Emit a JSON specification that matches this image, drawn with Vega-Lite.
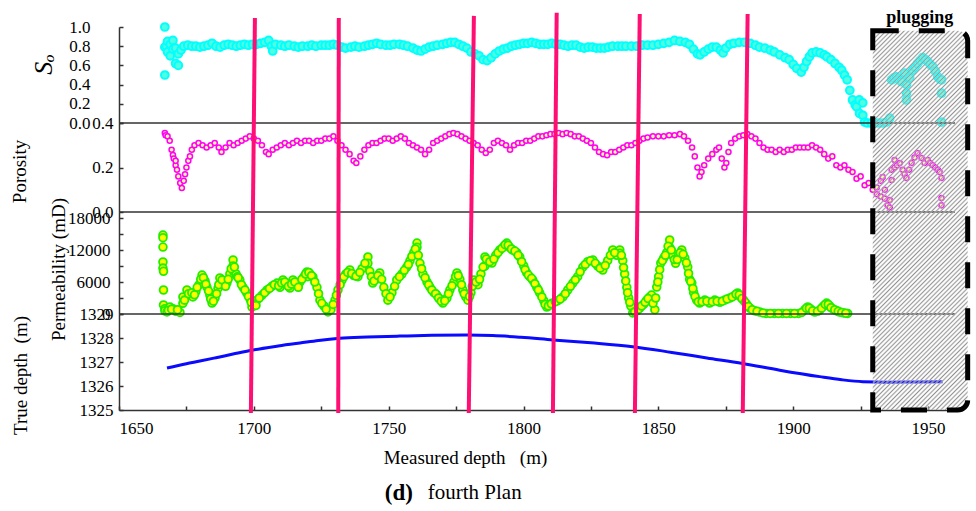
{
  "$schema": "https://vega.github.io/schema/vega-lite/v6.json",
  "autosize": "none",
  "width": 836,
  "height": 383,
  "padding": {"left": 119, "top": 27, "right": 21, "bottom": 101},
  "background": "white",
  "config": {
    "font": "Liberation Serif",
    "view": {"stroke": null},
    "text": {"font": "Liberation Serif"},
    "axis": {"labelFont": "Liberation Serif", "titleFont": "Liberation Serif", "labelColor": "#000", "titleColor": "#000", "titleFontWeight": "normal", "domainColor": "#333", "tickColor": "#333", "grid": false, "labelFontSize": 17, "domainWidth": 1.5, "tickWidth": 1.5}
  },
  "datasets": {
    "so": [
      {"md":1667,"v":1.0},{"md":1667,"v":0.5},{"md":1667,"v":0.79},{"md":1667.5,"v":0.80},{"md":1668,"v":0.74},{"md":1668,"v":0.85},{"md":1669,"v":0.70},{"md":1669,"v":0.82},{"md":1670,"v":0.77},{"md":1670,"v":0.86},{"md":1671,"v":0.62},{"md":1671,"v":0.78},{"md":1672,"v":0.60},{"md":1672,"v":0.72},{"md":1673,"v":0.76},{"md":1674,"v":0.80},{"md":1675.5,"v":0.81},{"md":1677,"v":0.80},{"md":1678.5,"v":0.80},{"md":1680,"v":0.79},{"md":1681.5,"v":0.80},{"md":1683,"v":0.81},{"md":1684.5,"v":0.83},{"md":1686,"v":0.80},{"md":1687.5,"v":0.79},{"md":1689,"v":0.81},{"md":1690.5,"v":0.82},{"md":1692,"v":0.81},{"md":1693.5,"v":0.80},{"md":1695,"v":0.81},{"md":1696.5,"v":0.82},{"md":1698,"v":0.81},{"md":1699.5,"v":0.82},{"md":1701,"v":0.82},{"md":1702.5,"v":0.83},{"md":1704,"v":0.84},{"md":1705.5,"v":0.86},{"md":1706.5,"v":0.80},{"md":1707,"v":0.75},{"md":1708,"v":0.82},{"md":1710,"v":0.81},{"md":1711.5,"v":0.80},{"md":1713,"v":0.81},{"md":1715,"v":0.80},{"md":1716.5,"v":0.79},{"md":1718,"v":0.80},{"md":1720,"v":0.80},{"md":1721.5,"v":0.81},{"md":1723,"v":0.80},{"md":1725,"v":0.81},{"md":1726.5,"v":0.81},{"md":1728,"v":0.81},{"md":1729.5,"v":0.82},{"md":1731,"v":0.81},{"md":1732.5,"v":0.79},{"md":1734,"v":0.78},{"md":1736,"v":0.79},{"md":1737.5,"v":0.80},{"md":1739,"v":0.79},{"md":1741,"v":0.80},{"md":1742.5,"v":0.81},{"md":1744,"v":0.82},{"md":1745.5,"v":0.83},{"md":1747,"v":0.82},{"md":1749,"v":0.81},{"md":1750.5,"v":0.81},{"md":1752,"v":0.82},{"md":1754,"v":0.82},{"md":1755.5,"v":0.81},{"md":1757,"v":0.80},{"md":1759,"v":0.78},{"md":1760.5,"v":0.76},{"md":1762,"v":0.75},{"md":1763.5,"v":0.77},{"md":1765,"v":0.79},{"md":1766.5,"v":0.80},{"md":1768,"v":0.81},{"md":1770,"v":0.82},{"md":1771.5,"v":0.83},{"md":1773,"v":0.84},{"md":1774.5,"v":0.84},{"md":1776,"v":0.82},{"md":1777.5,"v":0.80},{"md":1779,"v":0.78},{"md":1780.5,"v":0.74},{"md":1782,"v":0.72},{"md":1783.5,"v":0.70},{"md":1785,"v":0.66},{"md":1786.5,"v":0.65},{"md":1788,"v":0.68},{"md":1789.5,"v":0.72},{"md":1791,"v":0.75},{"md":1792.5,"v":0.77},{"md":1794,"v":0.78},{"md":1795.5,"v":0.80},{"md":1797,"v":0.81},{"md":1798.5,"v":0.82},{"md":1800,"v":0.83},{"md":1801.5,"v":0.83},{"md":1803,"v":0.84},{"md":1804.5,"v":0.83},{"md":1806,"v":0.82},{"md":1807.5,"v":0.82},{"md":1809,"v":0.82},{"md":1810.5,"v":0.83},{"md":1812,"v":0.82},{"md":1813.5,"v":0.82},{"md":1815,"v":0.81},{"md":1816.5,"v":0.80},{"md":1818,"v":0.81},{"md":1819.5,"v":0.81},{"md":1821,"v":0.79},{"md":1822.5,"v":0.78},{"md":1824,"v":0.79},{"md":1825.5,"v":0.79},{"md":1827,"v":0.78},{"md":1828.5,"v":0.78},{"md":1830,"v":0.78},{"md":1831.5,"v":0.79},{"md":1833,"v":0.80},{"md":1835,"v":0.80},{"md":1836.5,"v":0.80},{"md":1838,"v":0.80},{"md":1840,"v":0.80},{"md":1842,"v":0.80},{"md":1844,"v":0.81},{"md":1846,"v":0.81},{"md":1848,"v":0.81},{"md":1850,"v":0.82},{"md":1852,"v":0.83},{"md":1854,"v":0.84},{"md":1856,"v":0.86},{"md":1858,"v":0.85},{"md":1860,"v":0.84},{"md":1861.5,"v":0.82},{"md":1863,"v":0.77},{"md":1864.5,"v":0.72},{"md":1865.5,"v":0.71},{"md":1867,"v":0.74},{"md":1868.5,"v":0.77},{"md":1870,"v":0.79},{"md":1871.5,"v":0.79},{"md":1873,"v":0.76},{"md":1874,"v":0.73},{"md":1875,"v":0.78},{"md":1876.5,"v":0.82},{"md":1878,"v":0.83},{"md":1880,"v":0.84},{"md":1882,"v":0.84},{"md":1884,"v":0.83},{"md":1886,"v":0.81},{"md":1887.5,"v":0.79},{"md":1889.5,"v":0.78},{"md":1891.5,"v":0.76},{"md":1893,"v":0.74},{"md":1895,"v":0.71},{"md":1897,"v":0.68},{"md":1898.5,"v":0.66},{"md":1900,"v":0.61},{"md":1901.3,"v":0.57},{"md":1903,"v":0.53},{"md":1904,"v":0.58},{"md":1905,"v":0.64},{"md":1906,"v":0.69},{"md":1907,"v":0.73},{"md":1908.5,"v":0.74},{"md":1910,"v":0.73},{"md":1911.5,"v":0.71},{"md":1912.5,"v":0.69},{"md":1914,"v":0.66},{"md":1915.5,"v":0.62},{"md":1917,"v":0.58},{"md":1918,"v":0.55},{"md":1919,"v":0.50},{"md":1920,"v":0.45},{"md":1921,"v":0.34},{"md":1922,"v":0.24},{"md":1923,"v":0.19},{"md":1923.5,"v":0.17},{"md":1924.5,"v":0.24},{"md":1924.6,"v":0.10},{"md":1925.8,"v":0.21},{"md":1925.8,"v":0.08},{"md":1926.5,"v":0.01},{"md":1927.5,"v":0},{"md":1929,"v":0},{"md":1930.5,"v":0},{"md":1932,"v":0},{"md":1933.5,"v":0},{"md":1934.6,"v":0.01},{"md":1935.8,"v":0.05},{"md":1936.5,"v":0.45},{"md":1937.3,"v":0.47},{"md":1938.3,"v":0.48},{"md":1939.2,"v":0.45},{"md":1940.2,"v":0.43},{"md":1941.3,"v":0.52},{"md":1942,"v":0.31},{"md":1942,"v":0.24},{"md":1942,"v":0.40},{"md":1943.2,"v":0.47},{"md":1944.3,"v":0.55},{"md":1945.2,"v":0.58},{"md":1946.1,"v":0.62},{"md":1947,"v":0.65},{"md":1948,"v":0.68},{"md":1949,"v":0.66},{"md":1949.9,"v":0.64},{"md":1950.8,"v":0.61},{"md":1951.7,"v":0.59},{"md":1952.7,"v":0.54},{"md":1953.6,"v":0.48},{"md":1954.3,"v":0.46},{"md":1955,"v":0.45},{"md":1955,"v":0.31},{"md":1955,"v":0.01}
    ],
    "por": [
      {"md":1667,"v":0.355},{"md":1667.3,"v":0.345},{"md":1668,"v":0.34},{"md":1668.8,"v":0.32},{"md":1669.5,"v":0.28},{"md":1670,"v":0.256},{"md":1670.3,"v":0.24},{"md":1671,"v":0.21},{"md":1671,"v":0.23},{"md":1671.5,"v":0.19},{"md":1672,"v":0.16},{"md":1672.7,"v":0.13},{"md":1673.3,"v":0.108},{"md":1674,"v":0.14},{"md":1674.5,"v":0.17},{"md":1675,"v":0.20},{"md":1675.7,"v":0.23},{"md":1676.3,"v":0.25},{"md":1677,"v":0.28},{"md":1678,"v":0.30},{"md":1679.5,"v":0.31},{"md":1681,"v":0.30},{"md":1682.5,"v":0.29},{"md":1684,"v":0.30},{"md":1685.5,"v":0.31},{"md":1687,"v":0.29},{"md":1688,"v":0.27},{"md":1689.5,"v":0.29},{"md":1691,"v":0.31},{"md":1692.5,"v":0.30},{"md":1694,"v":0.31},{"md":1695.5,"v":0.32},{"md":1697,"v":0.33},{"md":1698.5,"v":0.34},{"md":1700,"v":0.33},{"md":1701.5,"v":0.32},{"md":1703,"v":0.30},{"md":1704.5,"v":0.27},{"md":1705.5,"v":0.26},{"md":1707,"v":0.28},{"md":1708.5,"v":0.29},{"md":1710,"v":0.30},{"md":1711.5,"v":0.31},{"md":1713,"v":0.30},{"md":1714.5,"v":0.31},{"md":1716,"v":0.32},{"md":1717.5,"v":0.31},{"md":1719,"v":0.32},{"md":1720.5,"v":0.32},{"md":1722,"v":0.31},{"md":1723.5,"v":0.32},{"md":1725,"v":0.32},{"md":1726.5,"v":0.33},{"md":1728,"v":0.33},{"md":1729.5,"v":0.34},{"md":1731,"v":0.32},{"md":1732.5,"v":0.30},{"md":1734,"v":0.28},{"md":1735.5,"v":0.26},{"md":1737,"v":0.23},{"md":1738,"v":0.22},{"md":1739.5,"v":0.25},{"md":1741,"v":0.28},{"md":1742.5,"v":0.30},{"md":1744,"v":0.31},{"md":1745.5,"v":0.31},{"md":1747,"v":0.32},{"md":1748.5,"v":0.33},{"md":1750,"v":0.33},{"md":1751.5,"v":0.32},{"md":1753,"v":0.33},{"md":1754.5,"v":0.34},{"md":1756,"v":0.33},{"md":1757.5,"v":0.31},{"md":1759,"v":0.30},{"md":1760.5,"v":0.29},{"md":1762,"v":0.28},{"md":1763.5,"v":0.26},{"md":1765,"v":0.28},{"md":1766.5,"v":0.31},{"md":1768,"v":0.32},{"md":1769.5,"v":0.33},{"md":1771,"v":0.34},{"md":1772.5,"v":0.35},{"md":1774,"v":0.355},{"md":1775.5,"v":0.35},{"md":1777,"v":0.34},{"md":1778.5,"v":0.33},{"md":1780,"v":0.32},{"md":1781.5,"v":0.31},{"md":1783,"v":0.30},{"md":1784.5,"v":0.28},{"md":1786,"v":0.265},{"md":1787.5,"v":0.28},{"md":1789,"v":0.31},{"md":1790.5,"v":0.32},{"md":1792,"v":0.31},{"md":1793.5,"v":0.30},{"md":1795,"v":0.28},{"md":1796.5,"v":0.30},{"md":1798,"v":0.31},{"md":1799.5,"v":0.31},{"md":1801,"v":0.32},{"md":1802.5,"v":0.32},{"md":1804,"v":0.33},{"md":1805.5,"v":0.34},{"md":1807,"v":0.34},{"md":1808.5,"v":0.345},{"md":1810,"v":0.35},{"md":1811.5,"v":0.35},{"md":1813,"v":0.355},{"md":1814.5,"v":0.35},{"md":1816,"v":0.355},{"md":1817.5,"v":0.35},{"md":1819,"v":0.34},{"md":1820.5,"v":0.34},{"md":1822,"v":0.33},{"md":1823.5,"v":0.32},{"md":1825,"v":0.31},{"md":1826.5,"v":0.29},{"md":1828,"v":0.27},{"md":1829.5,"v":0.26},{"md":1831,"v":0.255},{"md":1832.5,"v":0.27},{"md":1834,"v":0.27},{"md":1835.5,"v":0.28},{"md":1837,"v":0.29},{"md":1838.5,"v":0.30},{"md":1840,"v":0.30},{"md":1841.5,"v":0.31},{"md":1843,"v":0.32},{"md":1844.5,"v":0.33},{"md":1846,"v":0.335},{"md":1848,"v":0.34},{"md":1850,"v":0.34},{"md":1852,"v":0.34},{"md":1854,"v":0.345},{"md":1856,"v":0.345},{"md":1858,"v":0.35},{"md":1859.5,"v":0.34},{"md":1861,"v":0.32},{"md":1862.5,"v":0.29},{"md":1863.5,"v":0.25},{"md":1864.5,"v":0.20},{"md":1865.3,"v":0.16},{"md":1866,"v":0.18},{"md":1867,"v":0.21},{"md":1868.5,"v":0.24},{"md":1870,"v":0.26},{"md":1871.5,"v":0.28},{"md":1872.5,"v":0.29},{"md":1873.5,"v":0.24},{"md":1874.5,"v":0.20},{"md":1875.2,"v":0.22},{"md":1876,"v":0.27},{"md":1877,"v":0.31},{"md":1878.5,"v":0.33},{"md":1880,"v":0.34},{"md":1881.5,"v":0.345},{"md":1883,"v":0.35},{"md":1884.5,"v":0.34},{"md":1886,"v":0.33},{"md":1887.5,"v":0.31},{"md":1889,"v":0.29},{"md":1890.5,"v":0.28},{"md":1892,"v":0.28},{"md":1893.5,"v":0.27},{"md":1895,"v":0.28},{"md":1896.5,"v":0.27},{"md":1898,"v":0.28},{"md":1899.5,"v":0.28},{"md":1901,"v":0.29},{"md":1902.5,"v":0.29},{"md":1904,"v":0.29},{"md":1905.5,"v":0.29},{"md":1907,"v":0.30},{"md":1908.5,"v":0.29},{"md":1910,"v":0.28},{"md":1911.5,"v":0.26},{"md":1913,"v":0.24},{"md":1914.5,"v":0.25},{"md":1916,"v":0.21},{"md":1917.5,"v":0.20},{"md":1919,"v":0.21},{"md":1920.5,"v":0.19},{"md":1922,"v":0.18},{"md":1923.5,"v":0.15},{"md":1925,"v":0.16},{"md":1926.5,"v":0.12},{"md":1928,"v":0.13},{"md":1929.5,"v":0.10},{"md":1931,"v":0.11},{"md":1931,"v":0.08},{"md":1932.5,"v":0.07},{"md":1932.5,"v":0.14},{"md":1933.2,"v":0.157},{"md":1934,"v":0.06},{"md":1934,"v":0.10},{"md":1935,"v":0.03},{"md":1935.8,"v":0.02},{"md":1935.8,"v":0.054},{"md":1936.5,"v":0.19},{"md":1936.5,"v":0.144},{"md":1937.6,"v":0.234},{"md":1937.6,"v":0.2},{"md":1938.5,"v":0.21},{"md":1939.5,"v":0.22},{"md":1940.6,"v":0.19},{"md":1941.3,"v":0.17},{"md":1942,"v":0.153},{"md":1943,"v":0.19},{"md":1943.9,"v":0.22},{"md":1945,"v":0.245},{"md":1946.1,"v":0.265},{"md":1947.6,"v":0.243},{"md":1948.7,"v":0.22},{"md":1949.9,"v":0.234},{"md":1950.8,"v":0.22},{"md":1951.7,"v":0.21},{"md":1952.7,"v":0.20},{"md":1953.6,"v":0.19},{"md":1954.3,"v":0.18},{"md":1955,"v":0.153},{"md":1955,"v":0.063},{"md":1955,"v":0.03}
    ],
    "perm": [
      {"md":1666.3,"v":14800},{"md":1666.3,"v":14300},{"md":1666.3,"v":12560},{"md":1666.3,"v":9750},{"md":1666.3,"v":8600},{"md":1666.5,"v":8000},{"md":1666.5,"v":4500},{"md":1666.5,"v":1700},{"md":1667,"v":1000},{"md":1667,"v":600},{"md":1667.8,"v":400},{"md":1668.9,"v":1300},{"md":1670,"v":1000},{"md":1671.1,"v":500},{"md":1672.6,"v":300},{"md":1673.7,"v":3200},{"md":1673.7,"v":2000},{"md":1675.2,"v":4500},{"md":1676.3,"v":3500},{"md":1677.4,"v":3200},{"md":1678.5,"v":4200},{"md":1679.7,"v":5500},{"md":1680.8,"v":7300},{"md":1681.9,"v":6200},{"md":1682.6,"v":5060},{"md":1683.7,"v":3500},{"md":1684.5,"v":2060},{"md":1685.6,"v":3000},{"md":1686.7,"v":4800},{"md":1687.4,"v":6750},{"md":1688.9,"v":6000},{"md":1690,"v":5800},{"md":1691.1,"v":7500},{"md":1692.3,"v":10125},{"md":1692.3,"v":9000},{"md":1692.5,"v":8000},{"md":1693.4,"v":7500},{"md":1694.8,"v":6375},{"md":1696,"v":5000},{"md":1697.4,"v":3900},{"md":1698.6,"v":2800},{"md":1699.3,"v":1300},{"md":1700.4,"v":2000},{"md":1701.1,"v":2600},{"md":1703,"v":3500},{"md":1704.9,"v":4500},{"md":1706.7,"v":5200},{"md":1708.6,"v":5800},{"md":1709.7,"v":5000},{"md":1710.8,"v":6375},{"md":1712.3,"v":5500},{"md":1713.4,"v":4875},{"md":1714.5,"v":6375},{"md":1716,"v":5500},{"md":1717.1,"v":6000},{"md":1718.6,"v":7000},{"md":1719.7,"v":7875},{"md":1720,"v":7000},{"md":1720.8,"v":7500},{"md":1721.9,"v":6940},{"md":1723.4,"v":5000},{"md":1724.5,"v":2600},{"md":1726,"v":1500},{"md":1727.5,"v":400},{"md":1728.6,"v":800},{"md":1730.1,"v":2600},{"md":1731.2,"v":4500},{"md":1732.7,"v":6375},{"md":1734.1,"v":7500},{"md":1735.6,"v":8250},{"md":1737.1,"v":7200},{"md":1738.6,"v":7000},{"md":1740.1,"v":8500},{"md":1742.3,"v":10700},{"md":1742.3,"v":9500},{"md":1744.1,"v":5800},{"md":1745.3,"v":6500},{"md":1746.7,"v":7690},{"md":1748.2,"v":5000},{"md":1749.7,"v":2600},{"md":1751.2,"v":4000},{"md":1753,"v":6375},{"md":1754.9,"v":7500},{"md":1756.7,"v":8800},{"md":1757.9,"v":10000},{"md":1759.3,"v":11500},{"md":1760.5,"v":13300},{"md":1760.5,"v":12500},{"md":1761.6,"v":9500},{"md":1762.7,"v":7500},{"md":1764.2,"v":6000},{"md":1765.3,"v":5060},{"md":1766.8,"v":4000},{"md":1767.9,"v":3500},{"md":1769,"v":2800},{"md":1770.1,"v":2060},{"md":1771.6,"v":3000},{"md":1772.7,"v":4500},{"md":1774.2,"v":6000},{"md":1775.3,"v":7690},{"md":1776.4,"v":6500},{"md":1777.5,"v":4500},{"md":1778.6,"v":3200},{"md":1779.4,"v":2600},{"md":1780.5,"v":4000},{"md":1781.6,"v":6375},{"md":1783.1,"v":5500},{"md":1784.2,"v":7500},{"md":1785.7,"v":10700},{"md":1785.7,"v":9000},{"md":1786.8,"v":10000},{"md":1788.3,"v":9560},{"md":1789.7,"v":11000},{"md":1791.2,"v":12000},{"md":1792.7,"v":12700},{"md":1793.8,"v":13300},{"md":1794.9,"v":12500},{"md":1796,"v":12000},{"md":1797.5,"v":11500},{"md":1798.6,"v":10700},{"md":1800.1,"v":9000},{"md":1801.2,"v":7700},{"md":1802.3,"v":7000},{"md":1803.4,"v":6375},{"md":1804.9,"v":5000},{"md":1806,"v":3940},{"md":1807.5,"v":2500},{"md":1808.6,"v":1300},{"md":1809.7,"v":1800},{"md":1810.9,"v":2060},{"md":1812.7,"v":2500},{"md":1814.6,"v":3200},{"md":1816.4,"v":4500},{"md":1818.3,"v":5800},{"md":1820.1,"v":7000},{"md":1822,"v":8800},{"md":1823.8,"v":9800},{"md":1825.7,"v":10125},{"md":1827.5,"v":9000},{"md":1829.4,"v":8250},{"md":1831.2,"v":10000},{"md":1833.1,"v":12000},{"md":1834.6,"v":11000},{"md":1835.7,"v":12000},{"md":1835.7,"v":11400},{"md":1836.8,"v":10000},{"md":1837.5,"v":7500},{"md":1838.3,"v":5000},{"md":1839,"v":3000},{"md":1839.8,"v":1500},{"md":1840.5,"v":190},{"md":1842,"v":600},{"md":1843.1,"v":1125},{"md":1844.5,"v":1800},{"md":1845.7,"v":2600},{"md":1846.8,"v":3200},{"md":1847.5,"v":3560},{"md":1848.7,"v":800},{"md":1849.4,"v":5060},{"md":1850.1,"v":7000},{"md":1850.9,"v":9560},{"md":1852,"v":10500},{"md":1853.1,"v":11500},{"md":1854.2,"v":13875},{"md":1854.2,"v":12500},{"md":1855.3,"v":11000},{"md":1856.4,"v":9500},{"md":1857.5,"v":11000},{"md":1858.7,"v":12000},{"md":1859.8,"v":10500},{"md":1860.9,"v":8800},{"md":1861.6,"v":6500},{"md":1862.4,"v":5800},{"md":1863.1,"v":4000},{"md":1864.2,"v":2600},{"md":1865.3,"v":2060},{"md":1867.2,"v":2600},{"md":1869,"v":2060},{"md":1870.9,"v":2600},{"md":1872.8,"v":2200},{"md":1874.6,"v":2600},{"md":1876.5,"v":3000},{"md":1878.3,"v":3500},{"md":1879.4,"v":3940},{"md":1880.5,"v":3200},{"md":1881.6,"v":2600},{"md":1882.8,"v":1800},{"md":1883.9,"v":1125},{"md":1885.7,"v":600},{"md":1887.6,"v":375},{"md":1890,"v":100},{"md":1893,"v":100},{"md":1896,"v":100},{"md":1899,"v":100},{"md":1902,"v":100},{"md":1904.3,"v":800},{"md":1905.4,"v":1300},{"md":1906.5,"v":900},{"md":1908,"v":375},{"md":1909.8,"v":700},{"md":1911.3,"v":1500},{"md":1912.4,"v":2060},{"md":1913.5,"v":1500},{"md":1914.6,"v":1000},{"md":1916.1,"v":600},{"md":1917.2,"v":375},{"md":1918.7,"v":200},{"md":1920.2,"v":100},
      {"md":1668.3,"v":700},{"md":1669.5,"v":900},{"md":1671.7,"v":800},{"md":1674.3,"v":2600},{"md":1675.8,"v":3800},{"md":1677,"v":4000},{"md":1678,"v":3600},{"md":1679,"v":5000},{"md":1680.3,"v":6500},{"md":1681.3,"v":6800},{"md":1682.2,"v":5600},{"md":1683.2,"v":4300},{"md":1684,"v":2800},{"md":1685,"v":2400},{"md":1686.2,"v":3800},{"md":1687,"v":5500},{"md":1688.2,"v":6400},{"md":1689.5,"v":5200},{"md":1690.5,"v":6500},{"md":1691.6,"v":8500},{"md":1692.8,"v":8800},{"md":1693.9,"v":7000},{"md":1694.2,"v":6800},{"md":1695.4,"v":5500},{"md":1696.7,"v":4500},{"md":1698,"v":3300},{"md":1699,"v":2200},{"md":1700.8,"v":1600},{"md":1702,"v":3000},{"md":1704,"v":4000},{"md":1705.8,"v":4800},{"md":1707.6,"v":5500},{"md":1709.2,"v":5300},{"md":1710.3,"v":5800},{"md":1711.5,"v":6000},{"md":1712.8,"v":5200},{"md":1714,"v":5600},{"md":1715.2,"v":6000},{"md":1716.5,"v":5000},{"md":1717.8,"v":6500},{"md":1719.2,"v":7500},{"md":1720.4,"v":7800},{"md":1721.4,"v":7200},{"md":1722.6,"v":6000},{"md":1724,"v":3800},{"md":1725.2,"v":2000},{"md":1726.8,"v":900},{"md":1729.4,"v":1800},{"md":1730.6,"v":3500},{"md":1732,"v":5500},{"md":1733.4,"v":7000},{"md":1734.8,"v":7800},{"md":1736.3,"v":7600},{"md":1737.9,"v":7100},{"md":1739.3,"v":7800},{"md":1741.2,"v":9500},{"md":1743,"v":8000},{"md":1743.6,"v":7000},{"md":1744.6,"v":6200},{"md":1746,"v":7200},{"md":1747.4,"v":6500},{"md":1749,"v":3800},{"md":1750.5,"v":3200},{"md":1752.2,"v":5200},{"md":1754,"v":7000},{"md":1755.8,"v":8200},{"md":1757.3,"v":9300},{"md":1758.6,"v":10800},{"md":1759.9,"v":12200},{"md":1761,"v":11000},{"md":1762.2,"v":8500},{"md":1763.5,"v":6800},{"md":1764.8,"v":5500},{"md":1766,"v":4500},{"md":1767.4,"v":3800},{"md":1768.5,"v":3000},{"md":1769.5,"v":2400},{"md":1770.8,"v":2500},{"md":1772.2,"v":3800},{"md":1773.5,"v":5300},{"md":1774.8,"v":7000},{"md":1775.8,"v":7200},{"md":1777,"v":5500},{"md":1778,"v":3800},{"md":1780,"v":3300},{"md":1781,"v":5200},{"md":1782.4,"v":6000},{"md":1783.7,"v":6500},{"md":1785,"v":8800},{"md":1786.2,"v":10300},{"md":1787.5,"v":9800},{"md":1789,"v":10300},{"md":1790.5,"v":11500},{"md":1792,"v":12300},{"md":1793.2,"v":13000},{"md":1794.3,"v":12900},{"md":1795.5,"v":12200},{"md":1796.8,"v":11800},{"md":1798,"v":11000},{"md":1799.3,"v":9800},{"md":1800.6,"v":8300},{"md":1801.8,"v":7300},{"md":1803,"v":6700},{"md":1804.2,"v":5700},{"md":1805.5,"v":4500},{"md":1806.8,"v":3200},{"md":1808,"v":1800},{"md":1809.2,"v":1500},{"md":1810.3,"v":1900},{"md":1811.8,"v":2300},{"md":1813.6,"v":2800},{"md":1815.5,"v":3800},{"md":1817.4,"v":5200},{"md":1819.2,"v":6400},{"md":1821,"v":7900},{"md":1822.9,"v":9300},{"md":1824.8,"v":10000},{"md":1826.6,"v":9500},{"md":1828.4,"v":8600},{"md":1830.3,"v":9100},{"md":1832.2,"v":11000},{"md":1833.8,"v":11500},{"md":1836.3,"v":11000},{"md":1837.1,"v":8700},{"md":1837.9,"v":6200},{"md":1838.6,"v":4000},{"md":1839.4,"v":2200},{"md":1841.2,"v":400},{"md":1842.6,"v":900},{"md":1843.8,"v":1500},{"md":1845.1,"v":2200},{"md":1846.2,"v":2900},{"md":1848,"v":2000},{"md":1849,"v":3000},{"md":1849.8,"v":6000},{"md":1850.5,"v":8300},{"md":1851.5,"v":10000},{"md":1852.6,"v":11000},{"md":1853.6,"v":12700},{"md":1854.8,"v":12000},{"md":1855.9,"v":10200},{"md":1857,"v":10200},{"md":1858.1,"v":11500},{"md":1859.2,"v":11200},{"md":1860.4,"v":9600},{"md":1861.2,"v":7600},{"md":1862,"v":6100},{"md":1862.8,"v":4800},{"md":1863.6,"v":3300},{"md":1864.8,"v":2300},{"md":1866.2,"v":2300},{"md":1868,"v":2400},{"md":1870,"v":2300},{"md":1871.8,"v":2400},{"md":1873.7,"v":2400},{"md":1875.5,"v":2800},{"md":1877.4,"v":3200},{"md":1878.8,"v":3700},{"md":1880,"v":3600},{"md":1881,"v":2900},{"md":1882.2,"v":2200},{"md":1883.4,"v":1400},{"md":1884.8,"v":800},{"md":1886.6,"v":500},{"md":1888.8,"v":200},{"md":1891.5,"v":100},{"md":1894.5,"v":100},{"md":1897.5,"v":100},{"md":1900.5,"v":100},{"md":1903.2,"v":300},{"md":1904.9,"v":1100},{"md":1906,"v":1100},{"md":1907.2,"v":600},{"md":1909,"v":500},{"md":1910.5,"v":1100},{"md":1911.9,"v":1800},{"md":1913,"v":1800},{"md":1914,"v":1200},{"md":1915.4,"v":800},{"md":1916.7,"v":500},{"md":1918,"v":300},{"md":1919.5,"v":150}
    ],
    "tvd": [
      {"md":1667.8,"v":1326.75},{"md":1675,"v":1326.93},{"md":1680,"v":1327.04},{"md":1686,"v":1327.18},{"md":1692.3,"v":1327.33},{"md":1699.7,"v":1327.5},{"md":1708,"v":1327.65},{"md":1717.1,"v":1327.79},{"md":1724,"v":1327.9},{"md":1731.9,"v":1327.99},{"md":1742,"v":1328.04},{"md":1754.1,"v":1328.08},{"md":1766,"v":1328.11},{"md":1779,"v":1328.12},{"md":1788.6,"v":1328.1},{"md":1799,"v":1328.03},{"md":1810.9,"v":1327.92},{"md":1825,"v":1327.8},{"md":1840.5,"v":1327.64},{"md":1855,"v":1327.4},{"md":1868,"v":1327.17},{"md":1881.3,"v":1326.94},{"md":1895,"v":1326.66},{"md":1909.8,"v":1326.39},{"md":1918,"v":1326.26},{"md":1925.8,"v":1326.18},{"md":1935,"v":1326.16},{"md":1945,"v":1326.17},{"md":1955.4,"v":1326.18}
    ],
    "pink": [
      {"line":1,"md":1700.4,"pos":1.0235},{"line":1,"md":1698.9,"pos":-0.008},
      {"line":2,"md":1731.5,"pos":1.0235},{"line":2,"md":1731.3,"pos":-0.008},
      {"line":3,"md":1781.6,"pos":1.029},{"line":3,"md":1779.7,"pos":-0.008},
      {"line":4,"md":1812.3,"pos":1.037},{"line":4,"md":1810.9,"pos":-0.008},
      {"line":5,"md":1843.1,"pos":1.034},{"line":5,"md":1841.3,"pos":-0.008},
      {"line":6,"md":1883.1,"pos":1.034},{"line":6,"md":1881.3,"pos":-0.008}
    ],
    "dividers": [{"pos": 0.7493}, {"pos": 0.517}, {"pos": 0.2507}]
  },
  "resolve": {"scale": {"y": "independent"}, "axis": {"y": "independent"}},
  "layer": [
    {
      "data": {"name": "so"},
      "mark": {"type": "circle", "size": 60, "fill": "#50ffe0", "stroke": "#00ffff", "strokeWidth": 2, "opacity": 1},
      "encoding": {
        "x": {"field": "md", "type": "quantitative", "scale": {"domain": [1650, 1960], "nice": false, "zero": false},
          "axis": {"values": [1650,1675,1700,1725,1750,1775,1800,1825,1850,1875,1900,1925,1950], "format": "d", "labelExpr": "datum.value % 50 === 0 ? datum.label : ''", "tickSize": -4, "labelPadding": 14, "labelFont": "Liberation Serif", "titleFont": "Liberation Serif", "title": "Measured depth\u00a0\u00a0\u00a0(m)", "titleFontSize": 19, "titleX": 346, "titleY": 47, "titleBaseline": "middle"}},
        "y": {"field": "v", "type": "quantitative", "scale": {"domain": [0, 1], "range": [96, 0], "nice": false, "zero": false},
          "axis": {"orient": "left", "values": [0, 0.2, 0.4, 0.6, 0.8, 1], "format": ".1f", "tickSize": -4, "labelPadding": 33, "labelFont": "Liberation Serif", "titleFont": "Liberation Serif", "title": "S\u2092", "titleFontSize": 26, "titleFontStyle": "italic", "titleX": -76, "titleY": 37, "titleBaseline": "middle", "titleAngle": -90}}
      }
    },
    {
      "data": {"name": "por"},
      "mark": {"type": "circle", "size": 26, "fill": "#ffff90", "stroke": "#ff00ff", "strokeWidth": 1.5, "opacity": 1},
      "encoding": {
        "x": {"field": "md", "type": "quantitative", "scale": {"domain": [1650, 1960], "nice": false, "zero": false}},
        "y": {"field": "v", "type": "quantitative", "scale": {"domain": [0, 0.4], "range": [185, 96], "nice": false, "zero": false},
          "axis": {"orient": "left", "values": [0, 0.2, 0.4], "format": ".1f", "tickSize": -4, "labelPadding": 10, "labelFont": "Liberation Serif", "titleFont": "Liberation Serif", "title": "Porosity", "titleFontSize": 19, "titleX": -100, "titleY": 144, "titleBaseline": "middle", "titleAngle": -90}}
      }
    },
    {
      "data": {"name": "perm"},
      "mark": {"type": "circle", "size": 60, "fill": "#ffff00", "stroke": "#22ee00", "strokeWidth": 1.8, "opacity": 1},
      "encoding": {
        "x": {"field": "md", "type": "quantitative", "scale": {"domain": [1650, 1960], "nice": false, "zero": false}},
        "y": {"field": "v", "type": "quantitative", "scale": {"domain": [0, 19125], "range": [287, 185], "nice": false, "zero": false},
          "axis": {"orient": "left", "values": [0, 3000, 6000, 9000, 12000, 15000, 18000], "format": "d", "labelExpr": "datum.value % 6000 === 0 ? datum.label : ''", "tickSize": -4, "labelPadding": 13, "labelFont": "Liberation Serif", "titleFont": "Liberation Serif", "title": "Permeability (mD)", "titleFontSize": 19, "titleX": -61, "titleY": 242, "titleBaseline": "middle", "titleAngle": -90}}
      }
    },
    {
      "data": {"name": "tvd"},
      "mark": {"type": "line", "color": "#0a0aff", "strokeWidth": 3, "interpolate": "monotone"},
      "encoding": {
        "x": {"field": "md", "type": "quantitative", "scale": {"domain": [1650, 1960], "nice": false, "zero": false}},
        "y": {"field": "v", "type": "quantitative", "scale": {"domain": [1325, 1329], "range": [383, 287], "nice": false, "zero": false},
          "axis": {"orient": "left", "values": [1325, 1326, 1327, 1328, 1329], "format": "d", "tickSize": -4, "labelPadding": 10, "labelFont": "Liberation Serif", "titleFont": "Liberation Serif", "title": "True depth\u00a0\u00a0(m)", "titleFontSize": 19, "titleX": -99, "titleY": 348, "titleBaseline": "middle", "titleAngle": -90}}
      }
    },
    {
      "data": {"name": "dividers"},
      "mark": {"type": "rule", "color": "#333", "strokeWidth": 1.5},
      "encoding": {
        "y": {"field": "pos", "type": "quantitative", "scale": {"domain": [0, 1], "nice": false, "zero": false}, "axis": null}
      }
    },
    {
      "data": {"name": "pink"},
      "mark": {"type": "line", "color": "#ff0f73", "strokeWidth": 4, "strokeCap": "butt"},
      "encoding": {
        "x": {"field": "md", "type": "quantitative", "scale": {"domain": [1650, 1960], "nice": false, "zero": false}},
        "y": {"field": "pos", "type": "quantitative", "scale": {"domain": [0, 1], "nice": false, "zero": false}, "axis": null},
        "detail": {"field": "line", "type": "nominal"}
      }
    },
    {
      "data": {"values": [{"x1": 1929.5, "x2": 1964.7, "y1": 0.99, "y2": 0}]},
      "mark": {"type": "rect", "stroke": "#000", "strokeWidth": 5, "strokeDash": [26, 20], "cornerRadiusTopRight": 10, "cornerRadiusBottomRight": 10,
        "fill": {"gradient": "linear", "x1": 0, "y1": 0, "x2": 0.295, "y2": 1.1767, "stops": [
          {"offset":0,"color":"#909090"},{"offset":0.0048,"color":"rgba(255,255,255,0)"},{"offset":0.0095,"color":"#909090"},{"offset":0.0143,"color":"rgba(255,255,255,0)"},{"offset":0.019,"color":"#909090"},{"offset":0.0238,"color":"rgba(255,255,255,0)"},{"offset":0.0286,"color":"#909090"},{"offset":0.0333,"color":"rgba(255,255,255,0)"},{"offset":0.0381,"color":"#909090"},{"offset":0.0429,"color":"rgba(255,255,255,0)"},
          {"offset":0.0476,"color":"#909090"},{"offset":0.0524,"color":"rgba(255,255,255,0)"},{"offset":0.0571,"color":"#909090"},{"offset":0.0619,"color":"rgba(255,255,255,0)"},{"offset":0.0667,"color":"#909090"},{"offset":0.0714,"color":"rgba(255,255,255,0)"},{"offset":0.0762,"color":"#909090"},{"offset":0.081,"color":"rgba(255,255,255,0)"},{"offset":0.0857,"color":"#909090"},{"offset":0.0905,"color":"rgba(255,255,255,0)"},
          {"offset":0.0952,"color":"#909090"},{"offset":0.1,"color":"rgba(255,255,255,0)"},{"offset":0.1048,"color":"#909090"},{"offset":0.1095,"color":"rgba(255,255,255,0)"},{"offset":0.1143,"color":"#909090"},{"offset":0.119,"color":"rgba(255,255,255,0)"},{"offset":0.1238,"color":"#909090"},{"offset":0.1286,"color":"rgba(255,255,255,0)"},{"offset":0.1333,"color":"#909090"},{"offset":0.1381,"color":"rgba(255,255,255,0)"},
          {"offset":0.1429,"color":"#909090"},{"offset":0.1476,"color":"rgba(255,255,255,0)"},{"offset":0.1524,"color":"#909090"},{"offset":0.1571,"color":"rgba(255,255,255,0)"},{"offset":0.1619,"color":"#909090"},{"offset":0.1667,"color":"rgba(255,255,255,0)"},{"offset":0.1714,"color":"#909090"},{"offset":0.1762,"color":"rgba(255,255,255,0)"},{"offset":0.181,"color":"#909090"},{"offset":0.1857,"color":"rgba(255,255,255,0)"},
          {"offset":0.1905,"color":"#909090"},{"offset":0.1952,"color":"rgba(255,255,255,0)"},{"offset":0.2,"color":"#909090"},{"offset":0.2048,"color":"rgba(255,255,255,0)"},{"offset":0.2095,"color":"#909090"},{"offset":0.2143,"color":"rgba(255,255,255,0)"},{"offset":0.219,"color":"#909090"},{"offset":0.2238,"color":"rgba(255,255,255,0)"},{"offset":0.2286,"color":"#909090"},{"offset":0.2333,"color":"rgba(255,255,255,0)"},
          {"offset":0.2381,"color":"#909090"},{"offset":0.2429,"color":"rgba(255,255,255,0)"},{"offset":0.2476,"color":"#909090"},{"offset":0.2524,"color":"rgba(255,255,255,0)"},{"offset":0.2571,"color":"#909090"},{"offset":0.2619,"color":"rgba(255,255,255,0)"},{"offset":0.2667,"color":"#909090"},{"offset":0.2714,"color":"rgba(255,255,255,0)"},{"offset":0.2762,"color":"#909090"},{"offset":0.281,"color":"rgba(255,255,255,0)"},
          {"offset":0.2857,"color":"#909090"},{"offset":0.2905,"color":"rgba(255,255,255,0)"},{"offset":0.2952,"color":"#909090"},{"offset":0.3,"color":"rgba(255,255,255,0)"},{"offset":0.3048,"color":"#909090"},{"offset":0.3095,"color":"rgba(255,255,255,0)"},{"offset":0.3143,"color":"#909090"},{"offset":0.319,"color":"rgba(255,255,255,0)"},{"offset":0.3238,"color":"#909090"},{"offset":0.3286,"color":"rgba(255,255,255,0)"},
          {"offset":0.3333,"color":"#909090"},{"offset":0.3381,"color":"rgba(255,255,255,0)"},{"offset":0.3429,"color":"#909090"},{"offset":0.3476,"color":"rgba(255,255,255,0)"},{"offset":0.3524,"color":"#909090"},{"offset":0.3571,"color":"rgba(255,255,255,0)"},{"offset":0.3619,"color":"#909090"},{"offset":0.3667,"color":"rgba(255,255,255,0)"},{"offset":0.3714,"color":"#909090"},{"offset":0.3762,"color":"rgba(255,255,255,0)"},
          {"offset":0.381,"color":"#909090"},{"offset":0.3857,"color":"rgba(255,255,255,0)"},{"offset":0.3905,"color":"#909090"},{"offset":0.3952,"color":"rgba(255,255,255,0)"},{"offset":0.4,"color":"#909090"},{"offset":0.4048,"color":"rgba(255,255,255,0)"},{"offset":0.4095,"color":"#909090"},{"offset":0.4143,"color":"rgba(255,255,255,0)"},{"offset":0.419,"color":"#909090"},{"offset":0.4238,"color":"rgba(255,255,255,0)"},
          {"offset":0.4286,"color":"#909090"},{"offset":0.4333,"color":"rgba(255,255,255,0)"},{"offset":0.4381,"color":"#909090"},{"offset":0.4429,"color":"rgba(255,255,255,0)"},{"offset":0.4476,"color":"#909090"},{"offset":0.4524,"color":"rgba(255,255,255,0)"},{"offset":0.4571,"color":"#909090"},{"offset":0.4619,"color":"rgba(255,255,255,0)"},{"offset":0.4667,"color":"#909090"},{"offset":0.4714,"color":"rgba(255,255,255,0)"},
          {"offset":0.4762,"color":"#909090"},{"offset":0.481,"color":"rgba(255,255,255,0)"},{"offset":0.4857,"color":"#909090"},{"offset":0.4905,"color":"rgba(255,255,255,0)"},{"offset":0.4952,"color":"#909090"},{"offset":0.5,"color":"rgba(255,255,255,0)"},{"offset":0.5048,"color":"#909090"},{"offset":0.5095,"color":"rgba(255,255,255,0)"},{"offset":0.5143,"color":"#909090"},{"offset":0.519,"color":"rgba(255,255,255,0)"},
          {"offset":0.5238,"color":"#909090"},{"offset":0.5286,"color":"rgba(255,255,255,0)"},{"offset":0.5333,"color":"#909090"},{"offset":0.5381,"color":"rgba(255,255,255,0)"},{"offset":0.5429,"color":"#909090"},{"offset":0.5476,"color":"rgba(255,255,255,0)"},{"offset":0.5524,"color":"#909090"},{"offset":0.5571,"color":"rgba(255,255,255,0)"},{"offset":0.5619,"color":"#909090"},{"offset":0.5667,"color":"rgba(255,255,255,0)"},
          {"offset":0.5714,"color":"#909090"},{"offset":0.5762,"color":"rgba(255,255,255,0)"},{"offset":0.581,"color":"#909090"},{"offset":0.5857,"color":"rgba(255,255,255,0)"},{"offset":0.5905,"color":"#909090"},{"offset":0.5952,"color":"rgba(255,255,255,0)"},{"offset":0.6,"color":"#909090"},{"offset":0.6048,"color":"rgba(255,255,255,0)"},{"offset":0.6095,"color":"#909090"},{"offset":0.6143,"color":"rgba(255,255,255,0)"},
          {"offset":0.619,"color":"#909090"},{"offset":0.6238,"color":"rgba(255,255,255,0)"},{"offset":0.6286,"color":"#909090"},{"offset":0.6333,"color":"rgba(255,255,255,0)"},{"offset":0.6381,"color":"#909090"},{"offset":0.6429,"color":"rgba(255,255,255,0)"},{"offset":0.6476,"color":"#909090"},{"offset":0.6524,"color":"rgba(255,255,255,0)"},{"offset":0.6571,"color":"#909090"},{"offset":0.6619,"color":"rgba(255,255,255,0)"},
          {"offset":0.6667,"color":"#909090"},{"offset":0.6714,"color":"rgba(255,255,255,0)"},{"offset":0.6762,"color":"#909090"},{"offset":0.681,"color":"rgba(255,255,255,0)"},{"offset":0.6857,"color":"#909090"},{"offset":0.6905,"color":"rgba(255,255,255,0)"},{"offset":0.6952,"color":"#909090"},{"offset":0.7,"color":"rgba(255,255,255,0)"},{"offset":0.7048,"color":"#909090"},{"offset":0.7095,"color":"rgba(255,255,255,0)"},
          {"offset":0.7143,"color":"#909090"},{"offset":0.719,"color":"rgba(255,255,255,0)"},{"offset":0.7238,"color":"#909090"},{"offset":0.7286,"color":"rgba(255,255,255,0)"},{"offset":0.7333,"color":"#909090"},{"offset":0.7381,"color":"rgba(255,255,255,0)"},{"offset":0.7429,"color":"#909090"},{"offset":0.7476,"color":"rgba(255,255,255,0)"},{"offset":0.7524,"color":"#909090"},{"offset":0.7571,"color":"rgba(255,255,255,0)"},
          {"offset":0.7619,"color":"#909090"},{"offset":0.7667,"color":"rgba(255,255,255,0)"},{"offset":0.7714,"color":"#909090"},{"offset":0.7762,"color":"rgba(255,255,255,0)"},{"offset":0.781,"color":"#909090"},{"offset":0.7857,"color":"rgba(255,255,255,0)"},{"offset":0.7905,"color":"#909090"},{"offset":0.7952,"color":"rgba(255,255,255,0)"},{"offset":0.8,"color":"#909090"},{"offset":0.8048,"color":"rgba(255,255,255,0)"},
          {"offset":0.8095,"color":"#909090"},{"offset":0.8143,"color":"rgba(255,255,255,0)"},{"offset":0.819,"color":"#909090"},{"offset":0.8238,"color":"rgba(255,255,255,0)"},{"offset":0.8286,"color":"#909090"},{"offset":0.8333,"color":"rgba(255,255,255,0)"},{"offset":0.8381,"color":"#909090"},{"offset":0.8429,"color":"rgba(255,255,255,0)"},{"offset":0.8476,"color":"#909090"},{"offset":0.8524,"color":"rgba(255,255,255,0)"},
          {"offset":0.8571,"color":"#909090"},{"offset":0.8619,"color":"rgba(255,255,255,0)"},{"offset":0.8667,"color":"#909090"},{"offset":0.8714,"color":"rgba(255,255,255,0)"},{"offset":0.8762,"color":"#909090"},{"offset":0.881,"color":"rgba(255,255,255,0)"},{"offset":0.8857,"color":"#909090"},{"offset":0.8905,"color":"rgba(255,255,255,0)"},{"offset":0.8952,"color":"#909090"},{"offset":0.9,"color":"rgba(255,255,255,0)"},
          {"offset":0.9048,"color":"#909090"},{"offset":0.9095,"color":"rgba(255,255,255,0)"},{"offset":0.9143,"color":"#909090"},{"offset":0.919,"color":"rgba(255,255,255,0)"},{"offset":0.9238,"color":"#909090"},{"offset":0.9286,"color":"rgba(255,255,255,0)"},{"offset":0.9333,"color":"#909090"},{"offset":0.9381,"color":"rgba(255,255,255,0)"},{"offset":0.9429,"color":"#909090"},{"offset":0.9476,"color":"rgba(255,255,255,0)"},
          {"offset":0.9524,"color":"#909090"},{"offset":0.9571,"color":"rgba(255,255,255,0)"},{"offset":0.9619,"color":"#909090"},{"offset":0.9667,"color":"rgba(255,255,255,0)"},{"offset":0.9714,"color":"#909090"},{"offset":0.9762,"color":"rgba(255,255,255,0)"},{"offset":0.981,"color":"#909090"},{"offset":0.9857,"color":"rgba(255,255,255,0)"},{"offset":0.9905,"color":"#909090"},{"offset":0.9952,"color":"rgba(255,255,255,0)"},
          {"offset":1,"color":"#909090"}
        ]}},
      "encoding": {
        "x": {"field": "x1", "type": "quantitative", "scale": {"domain": [1650, 1960], "nice": false, "zero": false}},
        "x2": {"field": "x2"},
        "y": {"field": "y1", "type": "quantitative", "scale": {"domain": [0, 1], "nice": false, "zero": false}, "axis": null},
        "y2": {"field": "y2"}
      }
    },
    {
      "data": {"values": [{"x": 1946.9, "y": 1.0235, "t": "plugging"}]},
      "mark": {"type": "text", "font": "Liberation Serif", "fontSize": 18, "fontWeight": "bold", "baseline": "middle", "align": "center"},
      "encoding": {
        "x": {"field": "x", "type": "quantitative", "scale": {"domain": [1650, 1960], "nice": false, "zero": false}},
        "y": {"field": "y", "type": "quantitative", "scale": {"domain": [0, 1], "nice": false, "zero": false}, "axis": null},
        "text": {"field": "t"}
      }
    },
    {
      "data": {"values": [{"x": 1759.0, "y": -0.2167, "t": "(d)"}]},
      "mark": {"type": "text", "font": "Liberation Serif", "fontSize": 23, "fontWeight": "bold", "baseline": "middle", "align": "right"},
      "encoding": {
        "x": {"field": "x", "type": "quantitative", "scale": {"domain": [1650, 1960], "nice": false, "zero": false}},
        "y": {"field": "y", "type": "quantitative", "scale": {"domain": [0, 1], "nice": false, "zero": false}, "axis": null},
        "text": {"field": "t"}
      }
    },
    {
      "data": {"values": [{"x": 1764.5, "y": -0.2167, "t": "fourth Plan"}]},
      "mark": {"type": "text", "font": "Liberation Serif", "fontSize": 21, "baseline": "middle", "align": "left"},
      "encoding": {
        "x": {"field": "x", "type": "quantitative", "scale": {"domain": [1650, 1960], "nice": false, "zero": false}},
        "y": {"field": "y", "type": "quantitative", "scale": {"domain": [0, 1], "nice": false, "zero": false}, "axis": null},
        "text": {"field": "t"}
      }
    }
  ]
}
